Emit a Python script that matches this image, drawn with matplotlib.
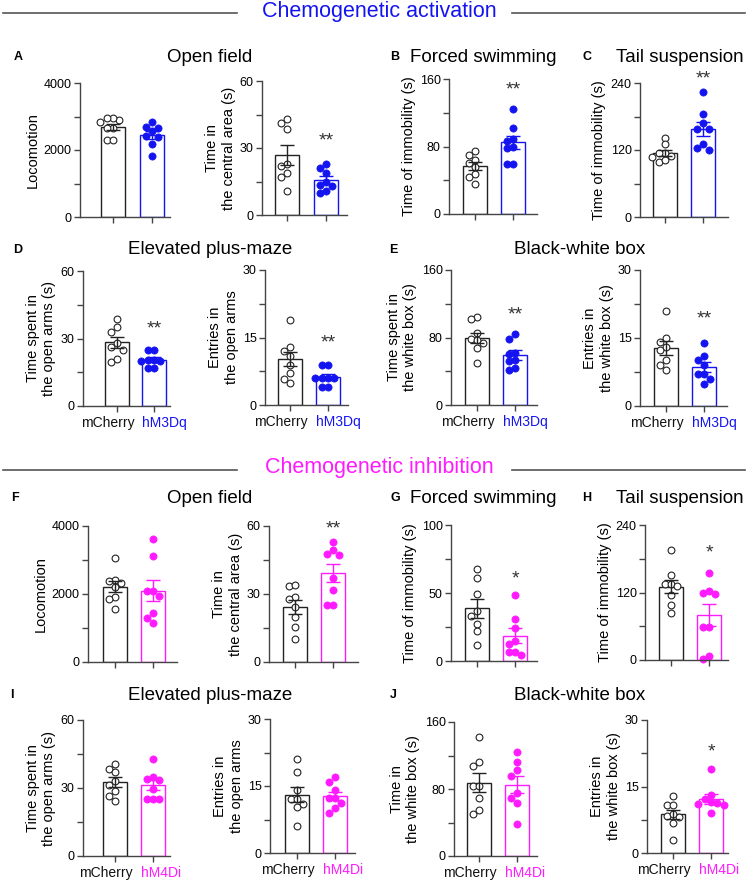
import numpy as np
import matplotlib.pyplot as plt
from matplotlib.lines import Line2D
from matplotlib.ticker import FixedLocator

plt.rcParams['font.family'] = ['Liberation Sans', 'DejaVu Sans']

# %% Data (8 mice per group).
groups_act = ['mCherry', 'hM3Dq']
groups_inh = ['mCherry', 'hM4Di']

# A: open field, activation
a_loco_ctrl = [2900, 2840, 2950, 2950, 2660, 2650, 2290, 2300]
a_loco_hm3 = [2830, 2680, 2650, 2560, 2420, 2380, 2190, 1810]
a_center_ctrl = [41.3, 38.3, 43.1, 22.9, 22.0, 19.0, 16.8, 10.8]
a_center_hm3 = [22.9, 19.0, 21.0, 13.2, 9.8, 13.4, 10.8, 15.0]
# B: forced swimming, activation
b_fst_ctrl = [75, 61, 70, 64, 56, 48, 44, 36]
b_fst_hm3 = [125, 102, 87, 89, 78, 59, 59, 80]
# C: tail suspension, activation
c_tst_ctrl = [142, 130, 115, 114, 110, 108, 99, 102]
c_tst_hm3 = [224, 184, 157, 168, 157, 130, 120, 124]
# D: elevated plus-maze, activation
d_time_ctrl = [38.8, 32.9, 34.9, 25.1, 27.8, 26.0, 19.6, 20.8]
d_time_hm3 = [24.8, 24.8, 20.4, 20.4, 19.9, 17.1, 17.1, 20.0]
d_entry_ctrl = [18.9, 13.0, 12.1, 10.9, 8.9, 7.1, 5.8, 4.9]
d_entry_hm3 = [8.9, 8.9, 6.0, 6.0, 6.0, 6.0, 4.0, 4.1]
# E: black-white box, activation
e_time_ctrl = [104, 101.6, 77.9, 85, 73, 77, 68, 50]
e_time_hm3 = [84, 78, 60, 62, 53, 52, 41, 44]
e_entry_ctrl = [20.9, 15.0, 14.1, 13.0, 12.3, 10.1, 9.0, 8.0]
e_entry_hm3 = [13.9, 11.0, 10.1, 9.0, 7.0, 7.0, 5.9, 4.9]

# F: open field, inhibition
f_loco_ctrl = [3070, 2400, 2380, 2320, 2200, 1910, 1860, 1570]
f_loco_hm4 = [3627, 3118, 2088, 1941, 1441, 1294, 1147, 2100]
f_center_ctrl = [33.4, 33.8, 28.7, 27.9, 24.3, 19.9, 15.4, 10.3]
f_center_hm4 = [52.9, 47.5, 49.3, 47.1, 37.2, 31.6, 25.0, 25.0]
# G: forced swimming, inhibition
g_fst_ctrl = [68, 61, 49, 37, 33, 27, 22, 12]
g_fst_hm4 = [48.4, 31.2, 24.3, 14.5, 12.8, 4.2, 6.6, 6.6]
# H: tail suspension, inhibition
h_tst_ctrl = [195.6, 152, 134.5, 134.5, 131, 115.6, 97.8, 84]
h_tst_hm4 = [155, 123, 116.7, 118.5, 58, 58, 1.8, 7]
# I: elevated plus-maze, inhibition
i_time_ctrl = [40.6, 38.6, 37.2, 33.2, 31.3, 28.8, 26.4, 24.3]
i_time_hm4 = [42.6, 34.0, 34.7, 33.5, 29.4, 25.0, 25.0, 25.0]
i_entry_ctrl = [21.0, 18.1, 14.0, 12.1, 11.0, 12.1, 10.3, 6.0]
i_entry_hm4 = [17.0, 16.0, 14.2, 12.3, 12.3, 11.3, 9.0, 10.1]
# J: black-white box, inhibition
j_time_ctrl = [141.7, 111.7, 107, 83, 83, 69, 50.3, 55]
j_time_hm4 = [124, 112, 103, 96, 75.8, 63.8, 69, 38.3]
j_entry_ctrl = [12.8, 10.9, 10.9, 8.3, 8.1, 8.9, 6.8, 2.9]
j_entry_hm4 = [19.0, 13.0, 12.1, 11.2, 10.9, 11.0, 9.0, 11.5]

# %% Colours.
c_ctrl = '#222222'
c_act = '#1414f0'
c_inh = '#ff1aff'
c_axis = '#444444'

# %% Figure.
W, H = 747, 881
fig = plt.figure(figsize=(W / 100, H / 100), dpi=100)


def px_ax(L, R, T, B):
    return fig.add_axes([L / W, 1 - B / H, (R - L) / W, (B - T) / H])


def swarm(vals, ymax, h_px, unit_px, d_px=6.8):
    # simple beeswarm: place points one by one, nudge sideways on overlap
    order = np.argsort(vals)[::-1]
    placed = []
    offs = np.zeros(len(vals))
    cands = [0, -1, 1, -2, 2, -3, 3]
    for i in order:
        y = vals[i] / ymax * h_px
        for k in cands:
            x = k * d_px * 0.95
            if all((x - px) ** 2 + (y - py) ** 2 >= (d_px * 0.95) ** 2 for px, py in placed):
                break
        placed.append((x, y))
        offs[i] = x / unit_px
    return offs


# panel table: data, axis max, y label, star, star height (axes frac), colour, x labels, geometry px
panels = [
    (a_loco_ctrl, a_loco_hm3, 4000, 'Locomotion', '', 0, c_act, None, (80, 170, 83, 217, 113, 152)),
    (a_center_ctrl, a_center_hm3, 60, 'Time in\nthe central area (s)', '**', 0.55, c_act, None, (262, 347, 81, 215, 287, 326)),
    (b_fst_ctrl, b_fst_hm3, 160, 'Time of immobility (s)', '**', 0.92, c_act, None, (449, 537, 79, 214, 475, 513)),
    (c_tst_ctrl, c_tst_hm3, 240, 'Time of immobility (s)', '**', 1.03, c_act, None, (640, 728, 83, 217, 665, 703)),
    (d_time_ctrl, d_time_hm3, 60, 'Time spent in\nthe open arms (s)', '**', 0.57, c_act, groups_act, (83, 170, 271, 406, 117, 154)),
    (d_entry_ctrl, d_entry_hm3, 30, 'Entries in\nthe open arms', '**', 0.46, c_act, groups_act, (265, 348, 270, 405, 290, 328)),
    (e_time_ctrl, e_time_hm3, 160, 'Time spent in\nthe white box (s)', '**', 0.67, c_act, groups_act, (451, 537, 270, 405, 477, 515)),
    (e_entry_ctrl, e_entry_hm3, 30, 'Entries in\nthe white box (s)', '**', 0.64, c_act, groups_act, (640, 727, 270, 406, 666, 704)),
    (f_loco_ctrl, f_loco_hm4, 4000, 'Locomotion', '', 0, c_inh, None, (88, 177, 526, 662, 115, 153)),
    (f_center_ctrl, f_center_hm4, 60, 'Time in\nthe central area (s)', '**', 0.98, c_inh, None, (269, 358, 526, 662, 295, 333)),
    (g_fst_ctrl, g_fst_hm4, 100, 'Time of immobility (s)', '*', 0.6, c_inh, None, (451, 537, 525, 661, 477, 515)),
    (h_tst_ctrl, h_tst_hm4, 240, 'Time of immobility (s)', '*', 0.795, c_inh, None, (645, 728, 525, 660, 671, 709)),
    (i_time_ctrl, i_time_hm4, 60, 'Time spent in\nthe open arms (s)', '', 0, c_inh, groups_inh, (83, 170, 720, 856, 115, 153)),
    (i_entry_ctrl, i_entry_hm4, 30, 'Entries in\nthe open arms', '', 0, c_inh, groups_inh, (270, 355, 719, 853, 297, 335)),
    (j_time_ctrl, j_time_hm4, 160, 'Time in\nthe white box (s)', '', 0, c_inh, groups_inh, (454, 537, 722, 856, 479, 517)),
    (j_entry_ctrl, j_entry_hm4, 30, 'Entries in\nthe white box (s)', '*', 0.76, c_inh, groups_inh, (647, 728, 720, 853, 673, 711)),
]

for ctrl, treat, ymax, ylab, star, star_y, col, xlabs, geo in panels:
    L, R, T, B, c0, c1 = geo
    ax = px_ax(L, R, T, B)
    unit = c1 - c0
    ax.set_xlim((L - c0) / unit, (R - c0) / unit)
    ax.set_ylim(0, ymax)
    bw = 24 / unit

    for i, (vals, ec, filled) in enumerate([(ctrl, c_ctrl, False), (treat, col, True)]):
        vals = np.array(vals, dtype=float)
        m = vals.mean()
        sem = vals.std(ddof=1) / np.sqrt(len(vals))
        ax.bar(i, m, width=bw, facecolor='white', edgecolor=ec, linewidth=1.0, zorder=1)
        offs = swarm(vals, ymax, B - T, unit)
        if filled:
            ax.scatter(i + offs, vals, s=27, color=col, edgecolor=col, linewidth=0.5, zorder=2, clip_on=False)
        else:
            ax.scatter(i + offs, vals, s=24, facecolor='white', edgecolor=c_ctrl, linewidth=0.8, zorder=2, clip_on=False)
        ax.errorbar(i, m, yerr=sem, color=ec, capsize=5, elinewidth=1.0, capthick=1.0, zorder=3)

    if star:
        ax.text(1, star_y * ymax, star, ha='center', va='center', fontsize=14, color='#333333', clip_on=False)

    for side in ['top', 'right']:
        ax.spines[side].set_visible(False)
    for side in ['left', 'bottom']:
        ax.spines[side].set_color(c_axis)
        ax.spines[side].set_linewidth(1.0)
    ax.set_yticks([0, ymax / 2, ymax])
    ax.set_yticklabels(['0', '%g' % (ymax / 2), '%g' % ymax])
    ax.yaxis.set_minor_locator(FixedLocator([ymax / 4, 3 * ymax / 4]))
    ax.tick_params(axis='y', which='both', length=4, width=1.0, color=c_axis, labelsize=9, pad=2)
    ax.tick_params(axis='x', length=4, width=1.0, color=c_axis, pad=2)
    ax.set_xticks([0, 1])
    ax.set_xticklabels(['', ''])
    if xlabs:
        # group names sit apart from the ticks, as in the original layout
        ax.annotate(xlabs[0], xy=(0, 0), xycoords=('data', 'axes fraction'), xytext=(13, -7),
                    textcoords='offset points', ha='right', va='top', fontsize=10, color='#111111')
        ax.annotate(xlabs[1], xy=(1, 0), xycoords=('data', 'axes fraction'), xytext=(-8.5, -7),
                    textcoords='offset points', ha='left', va='top', fontsize=10, color=col)
    ax.set_ylabel(ylab, fontsize=10.5, linespacing=1.25, labelpad=3)

# %% Titles and panel letters.
titles = [
    ('A', 18, 'Open field', 210, 57), ('B', 395, 'Forced swimming', 483, 57),
    ('C', 587, 'Tail suspension', 680, 57),
    ('D', 18, 'Elevated plus-maze', 210, 250), ('E', 393, 'Black-white box', 580, 250),
    ('F', 15, 'Open field', 210, 498), ('G', 395, 'Forced swimming', 483, 498),
    ('H', 587, 'Tail suspension', 680, 498),
    ('I', 12, 'Elevated plus-maze', 210, 695), ('J', 393, 'Black-white box', 580, 695),
]
for letter, lx, title, tx, ty in titles:
    fig.text(lx / W, 1 - ty / H, letter, fontsize=9, fontweight='bold', ha='center', va='center')
    fig.text(tx / W, 1 - ty / H, title, fontsize=13.5, ha='center', va='center')

# %% Section headers.
headers = [('Chemogenetic activation', c_act, 12, 13), ('Chemogenetic inhibition', c_inh, 468, 470)]
for text, col, ty, ly in headers:
    fig.text(379 / W, 1 - ty / H, text, fontsize=15.5, color=col, ha='center', va='center')
    for x0, x1 in [(3, 237), (512, 745)]:
        fig.add_artist(Line2D([x0 / W, x1 / W], [1 - ly / H, 1 - ly / H], color='#555555', linewidth=1.2))

fig.savefig('out.png', dpi=100)
